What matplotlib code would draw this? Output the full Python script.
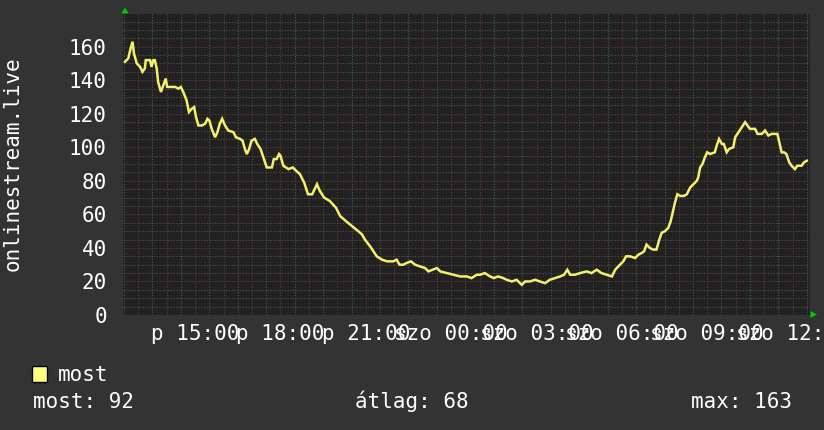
import matplotlib
matplotlib.use("Agg")
import matplotlib.pyplot as plt
from matplotlib.patches import Polygon, Rectangle
from matplotlib.ticker import MultipleLocator

# ---------------- data ----------------
times = ["12:32","12:39","12:44","12:48","12:51","12:57","13:04","13:09","13:14","13:16",
         "13:25","13:28","13:32","13:35","13:39","13:42","13:48","13:53","13:58","14:01",
         "14:07","14:18","14:25","14:30","14:35","14:42","14:47","14:53","14:58","15:02",
         "15:07","15:14","15:21","15:26","15:30","15:35","15:42","15:47","15:52","15:57",
         "16:03","16:10","16:21","16:26","16:35","16:40","16:45","16:49","16:54","16:59",
         "17:06","17:11","17:18","17:24","17:31","17:42","17:46","17:52","17:57","18:00",
         "18:06","18:17","18:26","18:33","18:41","18:50","18:58","19:07","19:17","19:23",
         "19:32","19:44","19:57","20:06","20:18","20:31","20:44","20:52","20:58","21:09",
         "21:16","21:23","21:34","21:45","21:58","22:05","22:11","22:19","22:26","22:35",
         "22:44","22:54","23:05","23:12","23:21","23:30","23:37","23:51","00:05","00:19",
         "00:33","00:43","00:54","01:01","01:11","01:22","01:30","01:39","01:50","01:57",
         "02:08","02:18","02:29","02:36","02:46","02:57","03:07","03:18","03:28","03:39",
         "03:50","03:58","04:05","04:11","04:21","04:32","04:46","04:56","05:07","05:17",
         "05:28","05:39","05:46","05:56","06:03","06:09","06:17","06:28","06:35","06:42",
         "06:47","06:52","06:59","07:06","07:13","07:19","07:24","07:31","07:38","07:43",
         "07:47","07:52","07:57","08:03","08:11","08:17","08:24","08:31","08:38","08:41",
         "08:45","08:50","08:55","09:00","09:06","09:16","09:20","09:25","09:31","09:35",
         "09:41","09:46","09:55","09:59","10:06","10:13","10:20","10:25","10:30","10:41",
         "10:46","10:55","11:02","11:09","11:16","11:28","11:32","11:37","11:42","11:47",
         "11:53","11:58","12:05","12:10","12:19","12:24","12:30"]
viewers = [151,153,159,163,156,150,148,145,147,152,
           152,148,152,152,147,139,133,137,141,136,
           136,136,135,136,133,128,121,123,124,118,
           113,113,114,117,116,111,106,109,114,117,
           113,110,109,106,105,104,99,96,99,104,
           105,102,99,94,88,88,93,93,96,95,
           89,87,88,86,84,79,72,72,78,74,
           70,68,64,59,56,53,50,48,45,41,
           38,35,33,32,32,33,30,30,31,32,
           30,29,28,26,27,28,26,25,24,23,
           23,22,24,24,25,23,22,23,22,21,
           20,21,18,20,20,21,20,19,21,22,
           23,24,27,24,24,25,26,25,27,25,
           24,23,27,30,32,35,35,34,36,37,
           38,42,40,39,39,45,49,50,52,56,
           61,67,72,71,71,72,76,78,80,82,
           88,90,94,97,96,97,101,105,102,102,
           97,99,100,106,109,112,115,113,111,111,
           108,108,110,107,108,108,103,97,97,96,
           91,89,87,89,89,91,92]

tick_hours = [15, 18, 21, 24, 27, 30, 33, 36]
tick_labels = ["p 15:00", "p 18:00", "p 21:00", "szo 00:00", "szo 03:00",
               "szo 06:00", "szo 09:00", "szo 12:00"]
ylabel = "onlinestream.live"
legend_name = "most"
stat_labels = ["most: 92", "átlag: 68", "max: 163"]

# convert to hours since Friday 00:00 (handle midnight wrap)
hours = []
offset = 0.0
prev = None
for t in times:
    h, m = t.split(":")
    v = int(h) + int(m) / 60.0
    if prev is not None and v + offset < prev:
        offset += 24.0
    hours.append(v + offset)
    prev = v + offset

# ---------------- style ----------------
W, H = 824, 430
BG = "#333333"
PLOT_BG = "#212121"
LINE = "#F4F06C"
MINOR = "#555555"
MAJOR = "#6e3636"
FONT = "DejaVu Sans Mono"
FS = 15

fig = plt.figure(figsize=(W / 100, H / 100), dpi=100, facecolor=BG)
L, R, T, B = 123.5, 810, 14, 315
ax = fig.add_axes([L / W, 1 - B / H, (R - L) / W, (B - T) / H])
ax.set_facecolor(PLOT_BG)

ax.set_xlim(12.483, 36.613)
ax.set_ylim(0, 179.5)

# grid
ax.yaxis.set_major_locator(MultipleLocator(20))
ax.yaxis.set_minor_locator(MultipleLocator(5))
ax.xaxis.set_major_locator(MultipleLocator(1))
ax.xaxis.set_minor_locator(MultipleLocator(0.5))
ax.grid(which="minor", color=MINOR, linestyle=(0, (1, 1.5)), linewidth=0.8)
ax.grid(which="major", color=MAJOR, linestyle=(0, (1, 1.5)), linewidth=0.8)
ax.set_axisbelow(True)

for s in ax.spines.values():
    s.set_visible(False)

ax.plot(hours, viewers, color=LINE, linewidth=1.8, solid_joinstyle="miter", zorder=3)

# y tick labels
ax.set_yticks(range(0, 161, 20))
ax.set_yticklabels([str(v) for v in range(0, 161, 20)], fontfamily=FONT,
                   fontsize=FS, color="white")
ax.tick_params(axis="y", which="both", length=0, pad=12)
ax.tick_params(axis="x", which="both", length=0, labelbottom=False)

# x labels (every 3 hours), drawn as text to allow overlap like the original
for hx, lab in zip(tick_hours, tick_labels):
    ax.text(hx, -5.5, lab, ha="center", va="top", fontfamily=FONT, fontsize=FS,
            color="white", clip_on=False)

# y axis title
fig.text(12.5 / W, 1 - 164 / H, ylabel, rotation=90, ha="center", va="center",
         fontfamily=FONT, fontsize=FS, color="white")

# arrows
def tri(pts):
    fig.patches.append(Polygon([(x / W, 1 - y / H) for x, y in pts], closed=True,
                               facecolor="#00CC00", edgecolor="none",
                               transform=fig.transFigure))
tri([(121.5, 13.5), (128.5, 13.5), (125, 7.5)])
tri([(810.5, 311), (810.5, 318), (817, 314.5)])

# legend
fig.patches.append(Rectangle((32 / W, 1 - 381.5 / H), 15 / W, 15.5 / H,
                             facecolor="#FFFF80", edgecolor="black", linewidth=1,
                             transform=fig.transFigure))
fig.text(58 / W, 1 - 381 / H, legend_name, ha="left", va="baseline",
         fontfamily=FONT, fontsize=FS, color="white")
fig.text(33 / W, 1 - 408.5 / H, stat_labels[0], ha="left", va="baseline",
         fontfamily=FONT, fontsize=FS, color="white")
fig.text(355 / W, 1 - 408.5 / H, stat_labels[1], ha="left", va="baseline",
         fontfamily=FONT, fontsize=FS, color="white")
fig.text(792 / W, 1 - 408.5 / H, stat_labels[2], ha="right", va="baseline",
         fontfamily=FONT, fontsize=FS, color="white")

fig.savefig("out.png", dpi=100, facecolor=BG)
